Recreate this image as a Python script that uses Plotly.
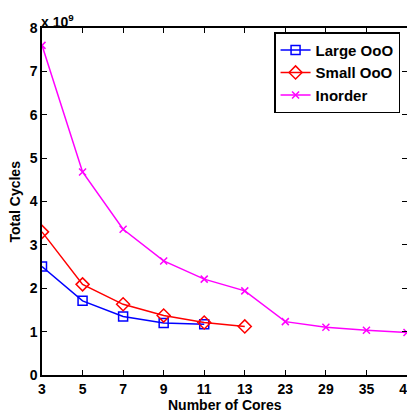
import plotly.graph_objects as go

cores = ["3", "5", "7", "9", "11", "13", "23", "29", "35", "41"]
large_ooo = [2.50, 1.71, 1.35, 1.20, 1.17]
small_ooo = [3.30, 2.09, 1.63, 1.37, 1.21, 1.12]
inorder = [7.60, 4.68, 3.36, 2.63, 2.21, 1.94, 1.23, 1.10, 1.03, 0.98]
y_ticks = [0, 1, 2, 3, 4, 5, 6, 7, 8]

FONT = "Liberation Sans, Arial, sans-serif"

fig = go.Figure()
fig.add_trace(go.Scatter(
    x=cores[:len(large_ooo)], y=large_ooo, name="<b>Large OoO</b>",
    mode="lines+markers", line=dict(color="#0000ff", width=1.5),
    marker=dict(symbol="square-open", size=9, color="#0000ff", line=dict(width=1.5))))
fig.add_trace(go.Scatter(
    x=cores[:len(small_ooo)], y=small_ooo, name="<b>Small OoO</b>",
    mode="lines+markers", line=dict(color="#ff0000", width=1.5),
    marker=dict(symbol="diamond-open", size=10, color="#ff0000", line=dict(width=1.5))))
fig.add_trace(go.Scatter(
    x=cores, y=inorder, name="<b>Inorder</b>",
    mode="lines+markers", line=dict(color="#ff00ff", width=1.5),
    marker=dict(symbol="x-thin-open", size=7, color="#ff00ff", line=dict(width=1.5, color="#ff00ff"))))

axis_common = dict(
    showline=True, linecolor="black", linewidth=1.5, mirror="ticks",
    ticks="inside", ticklen=5, tickcolor="black", tickwidth=1,
    showgrid=False, zeroline=False, automargin=False,
    tickfont=dict(family=FONT, size=14, color="black"),
)

fig.update_xaxes(type="category", categoryorder="array", categoryarray=cores,
                 range=[0, len(cores) - 1],
                 tickvals=cores, ticktext=["<b>%s</b>" % c for c in cores],
                 **axis_common)
fig.update_yaxes(range=[0, 8], tickvals=y_ticks, ticktext=["<b>%d</b>" % v for v in y_ticks],
                 **axis_common)

fig.add_annotation(text="<b>Number of Cores</b>", xref="paper", yref="paper",
                   x=0.5, y=-0.0865, xanchor="center", yanchor="middle", showarrow=False,
                   font=dict(family=FONT, size=14, color="black"))
fig.add_annotation(text="<b>Total Cycles</b>", xref="paper", yref="paper",
                   x=-0.074, y=0.5, xanchor="center", yanchor="middle", showarrow=False,
                   textangle=-90, font=dict(family=FONT, size=14, color="black"))
fig.add_annotation(text="<b>x 10<sup>9</sup></b>", xref="paper", yref="paper", x=0, y=1.0,
                   xanchor="left", yanchor="bottom", showarrow=False,
                   font=dict(family=FONT, size=14, color="black"), yshift=-4, xshift=-3)

fig.update_layout(
    width=407, height=403,
    margin=dict(l=34, r=8, t=20, b=36),
    paper_bgcolor="white", plot_bgcolor="white",
    font=dict(family=FONT, color="black"),
    legend=dict(x=0.981, y=0.988, xanchor="right", yanchor="top",
                bgcolor="white", bordercolor="black", borderwidth=1.5,
                font=dict(family=FONT, size=15, color="black"),
                tracegroupgap=2, itemwidth=30),
    showlegend=True,
)

fig.write_html("out.html")
